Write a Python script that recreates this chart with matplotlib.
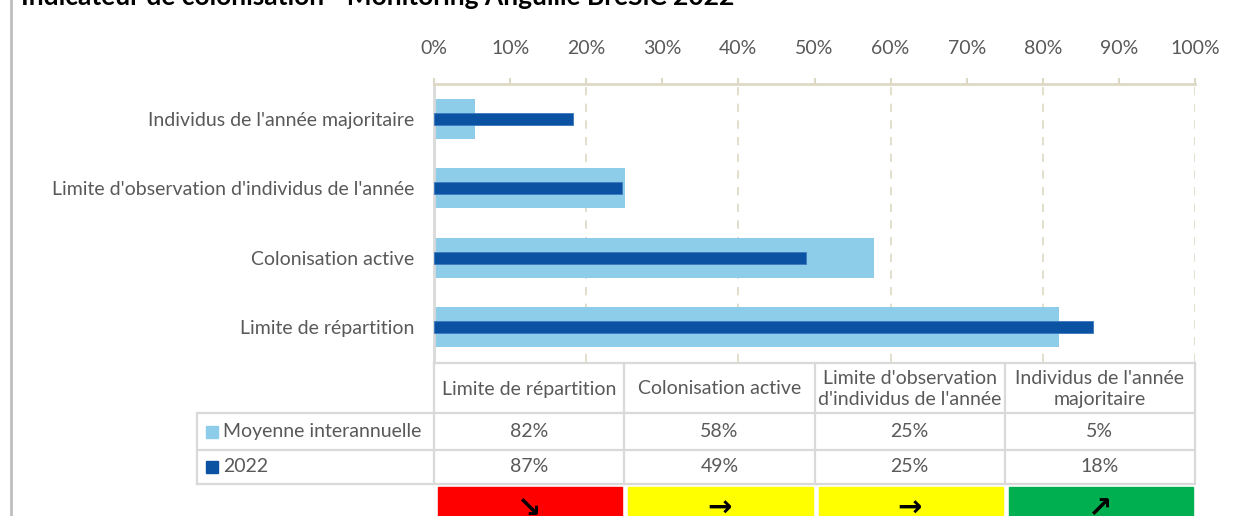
import numpy as np
import matplotlib
matplotlib.use("Agg")
import matplotlib.pyplot as plt
from matplotlib.patches import Rectangle

plt.rcParams['font.family'] = ['Lato', 'DejaVu Sans']

# data
categories = ["Limite de répartition", "Colonisation active",
              "Limite d'observation d'individus de l'année",
              "Individus de l'année majoritaire"]
header_labels = ["Limite de répartition", "Colonisation active",
                 "Limite d'observation\nd'individus de l'année",
                 "Individus de l'année\nmajoritaire"]
moyenne = [82.1, 57.8, 25.1, 5.4]
annee_2022 = [86.6, 48.9, 24.7, 18.3]
series_names = ["Moyenne interannuelle", "2022"]
trend_colors = ["#FF0000", "#FFFF00", "#FFFF00", "#00B050"]
trend_arrows = ["\u2198", "\u2192", "\u2192", "\u2197"]
title = "Indicateur de colonisation - Monitoring Anguille BreSiC 2022"

light = "#8ECDEA"
dark = "#0B53A2"
grey_txt = "#595959"
tan = "#DDD9C4"
cell_line = "#D9D9D9"
fs = 14

W, H = 1239, 516
fig = plt.figure(figsize=(W / 100, H / 100), dpi=100)

x0, x1 = 434, 1195
top, bot = 84, 362
ax = fig.add_axes([x0 / W, 1 - bot / H, (x1 - x0) / W, (bot - top) / H])

pos = np.arange(len(categories))
ax.barh(pos, moyenne, height=0.58, color=light, zorder=2)
ax.barh(pos, annee_2022, height=0.17, color=dark, edgecolor="#3C78C0", linewidth=0.6, zorder=3)
ax.set_ylim(-0.5, len(categories) - 0.5)
ax.set_xlim(0, 100)

ax.set_yticks(pos)
ax.set_yticklabels(categories, fontsize=fs, color=grey_txt)
ax.tick_params(axis='y', length=0, pad=14)

ax.xaxis.tick_top()
ax.set_xticks(np.arange(0, 101, 10))
ax.set_xticklabels([f"{v}%" for v in range(0, 101, 10)], fontsize=fs, color=grey_txt)
ax.tick_params(axis='x', length=4.5, color=tan, width=1.5, pad=15)

for v in range(20, 101, 20):
    ax.axvline(v, color=tan, linestyle=(0, (5, 5)), linewidth=1.2, zorder=1)

for s in ['right', 'bottom']:
    ax.spines[s].set_visible(False)
ax.spines['top'].set_color(tan)
ax.spines['top'].set_linewidth(2)
ax.spines['left'].set_color(cell_line)
ax.spines['left'].set_linewidth(2)

# table drawn in pixel space
tb = fig.add_axes([0, 0, 1, 1])
tb.set_xlim(0, W)
tb.set_ylim(H, 0)
tb.axis('off')

edges = [x0 + (x1 - x0) * k / 4 for k in range(5)]
y_head0, y_head1, y_r1, y_r2 = 363, 413, 450, 484
leg_x = 197
lw = 1.6

tb.plot([edges[0], edges[-1]], [y_head0, y_head0], color=cell_line, lw=lw)
for yy in [y_head1, y_r1, y_r2]:
    tb.plot([leg_x, edges[-1]], [yy, yy], color=cell_line, lw=lw)
for e in edges:
    tb.plot([e, e], [y_head0, y_r2], color=cell_line, lw=lw)
tb.plot([leg_x, leg_x], [y_head1, y_r2], color=cell_line, lw=lw)

for i in range(4):
    cx = (edges[i] + edges[i + 1]) / 2
    tb.text(cx, (y_head0 + y_head1) / 2 + 1, header_labels[i], ha='center', va='center',
            fontsize=fs, color=grey_txt, linespacing=1.3)
    tb.text(cx, (y_head1 + y_r1) / 2, f"{round(moyenne[i])}%", ha='center', va='center',
            fontsize=fs, color=grey_txt)
    tb.text(cx, (y_r1 + y_r2) / 2, f"{round(annee_2022[i])}%", ha='center', va='center',
            fontsize=fs, color=grey_txt)
    tb.add_patch(Rectangle((edges[i] + 4, 487), edges[i + 1] - edges[i] - 6, 40,
                           color=trend_colors[i]))
    tb.text(cx, 509, trend_arrows[i], ha='center', va='center', fontsize=21,
            fontweight='bold', color='black', family='DejaVu Sans')

for j, (name, col) in enumerate(zip(series_names, [light, dark])):
    yc = [(y_head1 + y_r1) / 2, (y_r1 + y_r2) / 2][j]
    tb.add_patch(Rectangle((206, yc - 6), 12, 12, color=col))
    tb.text(223, yc, name, ha='left', va='center', fontsize=fs, color=grey_txt)

# outer frame line on the left
tb.plot([11, 11], [0, H], color="#BFBFBF", lw=2)

fig.text(21 / W, 1 - 5 / H, title, ha='left', va='baseline', fontsize=19,
         fontweight='bold', color='black')

fig.savefig("out.png", dpi=100)
